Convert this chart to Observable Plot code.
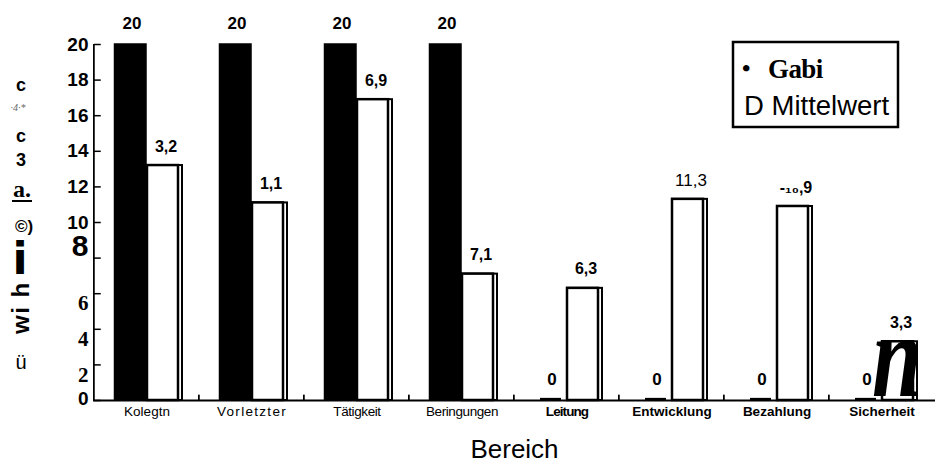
<!DOCTYPE html>
<html><head><meta charset="utf-8">
<script src="https://cdn.jsdelivr.net/npm/d3@7"></script>
<script src="https://cdn.jsdelivr.net/npm/@observablehq/plot@0.6"></script>
<style>body{margin:0;background:#fff}</style>
</head><body><div id="chart"></div>
<script>
// ---- data ----
const categories = ["Kolegtn","Vorletzter","Tätigkeit","Beringungen","Leitung","Entwicklung","Bezahlung","Sicherheit"];
const gabi = [20,20,20,20,0,0,0,0];
const mittelwert = [13.2,11.1,16.9,7.1,6.3,11.3,10.9,3.3];
const gabiLabels = ["20","20","20","20","0","0","0","0"];
const mittelLabels = ["3,2","1,1","6,9","7,1","6,3","11,3","-\u2081\u2080,9","3,3"];
const yTicks = [0,2,4,6,8,10,12,14,16,18,20];
const yTickLabels = ["0","2","4","6","8","10","12","14","16","18","20"];
const seriesNames = ["Gabi","Mittelwert"];
const legendMarkers = ["\u2022","D"];
const xTitle = "Bereich";
const yTitleFragments = ["c","\u00b74\u00b7*","c","3","a.","\u00a9)","i","wi h","\u00fc"];
const overlayGlyph = "n";

// ---- layout ----
const W = 936, H = 469, mL = 93, mR = 1, mT = 44, mB = 69;
const step = (W - mL - mR) / categories.length;
const SANS = "Liberation Sans, Arial, sans-serif";
const SERIF = "Liberation Serif, Times New Roman, serif";
const rows = categories.map((c, i) => ({cat: c, gabi: gabi[i], mittel: mittelwert[i], gl: gabiLabels[i], ml: mittelLabels[i], bold: i >= 4}));
const yl = yTicks.map((v, i) => ({v, t: yTickLabels[i]}));

const chart = Plot.plot({
  width: W, height: H, marginTop: mT, marginBottom: mB, marginLeft: mL, marginRight: mR,
  style: {background: "white", fontFamily: SANS, color: "black", overflow: "visible"},
  x: {domain: categories, padding: 0, axis: null},
  y: {domain: [0, 20], axis: null},
  marks: [
    // Mittelwert value labels (drawn first so the black bars may overlap them)
    Plot.text(rows.filter(d => d.ml !== "11,3"), {x: "cat", y: "mittel", text: "ml", dx: 19, dy: -19, fontWeight: "bold", fontSize: 16, fill: "black"}),
    Plot.text(rows.filter(d => d.ml === "11,3"), {x: "cat", y: "mittel", text: "ml", dx: 19, dy: -19, fontWeight: "normal", fontSize: 17, fill: "black"}),
    // Mittelwert bars: outer shadow frame + inner white bar
    Plot.rectY(rows, {x: "cat", y: "mittel", insetLeft: 53, insetRight: 17, fill: "white", stroke: "black", strokeWidth: 2}),
    Plot.rectY(rows, {x: "cat", y: "mittel", insetLeft: 53, insetRight: 21, fill: "white", stroke: "black", strokeWidth: 2.5}),
    // Gabi bars
    Plot.rectY(rows, {x: "cat", y: "gabi", insetLeft: 20.5, insetRight: 53, fill: "black", stroke: "black", strokeWidth: 1.5}),
    Plot.rectY(rows.filter(d => d.gabi === 0), {x: "cat", y1: 0, y2: 0.12, insetLeft: 26, insetRight: 58, fill: "black"}),
    Plot.text(rows, {x: "cat", y: "gabi", text: "gl", dx: -15, dy: -21, fontWeight: "bold", fontSize: 17, fill: "black"}),
    // axes
    Plot.ruleY([0], {stroke: "black", strokeWidth: 2}),
    Plot.rectY([categories[0]], {x: d => d, y1: 0, y2: 20, insetLeft: -1, insetRight: step - 1, fill: "black"}),
    Plot.tickY(yTicks, {y: d => d, x: () => categories[0], insetRight: step - 7, stroke: "black", strokeWidth: 1.5}),
    Plot.rectY(categories.slice(1), {x: d => d, y1: 0, y2: 0.3, insetLeft: -1, insetRight: step - 1, fill: "black"}),
    // y tick labels
    Plot.text(yl.filter(d => d.v >= 10), {y: "v", text: "t", frameAnchor: "left", dx: -5, textAnchor: "end", fontWeight: "bold", fontSize: 19, fill: "black"}),
    Plot.text(yl.filter(d => d.v === 0), {y: "v", text: "t", frameAnchor: "left", dx: -5, dy: -2, textAnchor: "end", fontWeight: "bold", fontSize: 19, fill: "black"}),
    Plot.text(yl.filter(d => d.v > 0 && d.v < 8), {y: "v", text: "t", frameAnchor: "left", dx: -5, dy: 10, textAnchor: "end", fontWeight: "bold", fontSize: 21, fontFamily: SERIF, fill: "black"}),
    Plot.text(yl.filter(d => d.v === 8), {y: "v", text: "t", frameAnchor: "left", dx: -5, dy: -12, textAnchor: "end", fontWeight: "bold", fontSize: 30, fill: "black"}),
    // category labels
    Plot.text(rows.filter(d => !d.bold), {x: "cat", text: "cat", frameAnchor: "bottom", dy: 15, fontSize: 13.5, fill: "black"}),
    Plot.text(rows.filter(d => d.bold), {x: "cat", text: "cat", frameAnchor: "bottom", dy: 15, fontSize: 13.5, fontWeight: "bold", fill: "black"}),
    // x title
    Plot.text([xTitle], {text: d => d, frameAnchor: "bottom", dy: 57, fontSize: 26, fill: "black"})
  ]
});
document.getElementById("chart").appendChild(chart);

const svg = d3.select(chart);
svg.selectAll("text").filter(function () { return this.textContent === "Vorletzter"; }).attr("letter-spacing", 1.3);
svg.selectAll("text").filter(function () { return this.textContent === "Leitung"; }).attr("letter-spacing", -0.9);
svg.selectAll("text").filter(function () { return this.textContent === "Tätigkeit" || this.textContent === "Beringungen"; }).attr("letter-spacing", -0.4);

// legend
const lg = svg.append("g").attr("text-anchor", "start").attr("fill", "black");
lg.append("rect").attr("x", 733).attr("y", 42).attr("width", 165).attr("height", 85)
  .attr("fill", "white").attr("stroke", "black").attr("stroke-width", 2.5);
lg.append("text").attr("x", 742).attr("y", 76).attr("font-family", SERIF).attr("font-weight", "bold").attr("font-size", 24).text(legendMarkers[0]);
lg.append("text").attr("x", 768).attr("y", 78).attr("font-family", SERIF).attr("font-weight", "bold").attr("font-size", 27).attr("letter-spacing", -0.6).text(seriesNames[0]);
lg.append("text").attr("x", 744).attr("y", 115).attr("font-family", SANS).attr("font-size", 27.5).text(legendMarkers[1] + " " + seriesNames[1]);

// garbled y-axis title fragments
const yt = svg.append("g").attr("fill", "black").attr("text-anchor", "middle");
yt.append("text").attr("x", 21).attr("y", 91).attr("font-family", SANS).attr("font-weight", "bold").attr("font-size", 18).text(yTitleFragments[0]);
yt.append("text").attr("x", 18).attr("y", 111).attr("font-family", SERIF).attr("font-style", "italic").attr("font-size", 10).attr("fill", "#666").text(yTitleFragments[1]);
yt.append("text").attr("x", 21).attr("y", 142).attr("font-family", SANS).attr("font-weight", "bold").attr("font-size", 18).text(yTitleFragments[2]);
yt.append("text").attr("x", 21).attr("y", 166).attr("font-family", SANS).attr("font-weight", "bold").attr("font-size", 18).text(yTitleFragments[3]);
yt.append("text").attr("x", 22).attr("y", 197).attr("font-family", SERIF).attr("font-weight", "bold").attr("font-size", 24).text(yTitleFragments[4]);
yt.append("rect").attr("x", 12).attr("y", 200).attr("width", 20).attr("height", 2);
yt.append("text").attr("x", 24).attr("y", 232).attr("font-family", SANS).attr("font-weight", "bold").attr("font-size", 17).text(yTitleFragments[5]);
yt.append("text").attr("x", 20).attr("y", 274).attr("font-family", "DejaVu Sans").attr("font-weight", "bold").attr("font-size", 44).text(yTitleFragments[6]);
yt.append("text").attr("text-anchor", "start").attr("transform", "translate(29,334) rotate(-90)").attr("font-family", SANS).attr("font-weight", "bold").attr("font-size", 24).attr("letter-spacing", 1.5).text(yTitleFragments[7]);
yt.append("text").attr("x", 21).attr("y", 369).attr("font-family", SANS).attr("font-size", 20).text(yTitleFragments[8]);

// big italic glyph over the last group
svg.append("text").attr("text-anchor", "start").attr("x", 872).attr("y", 396).attr("fill", "black").attr("font-family", SERIF).attr("font-weight", "bold").attr("font-style", "italic")
  .attr("font-size", 118).attr("textLength", 50).attr("lengthAdjust", "spacingAndGlyphs").text(overlayGlyph);
</script>
</body></html>
